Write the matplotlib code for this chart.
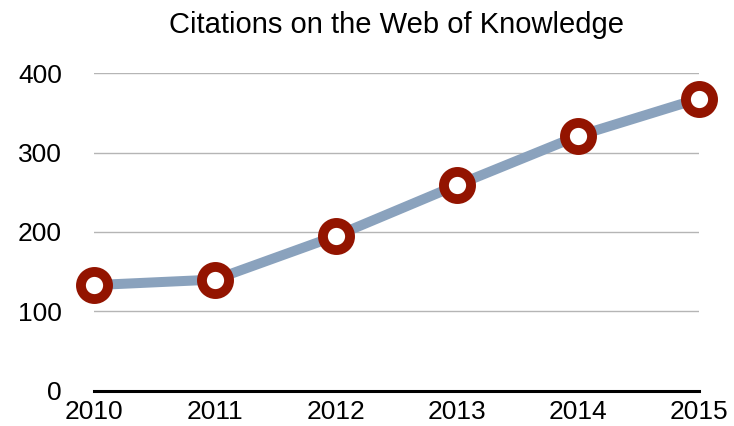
import matplotlib
matplotlib.use('Agg')
import matplotlib.pyplot as plt

years = [2010, 2011, 2012, 2013, 2014, 2015]
citations = [133, 140, 195, 259, 321, 368]
yticks = [0, 100, 200, 300, 400]

plt.rcParams['font.family'] = ['Liberation Sans', 'DejaVu Sans']

fig = plt.figure(figsize=(7.34, 4.26), dpi=100)
ax = fig.add_axes([0.128, 0.083, 0.824, 0.745])

ax.plot(years, citations, color='#8aa2bd', linewidth=7.2, zorder=2,
        solid_capstyle='butt', clip_on=False)
ax.plot(years, citations, linestyle='none', marker='o', markersize=19.5,
        markerfacecolor='white', markeredgecolor='#931400',
        markeredgewidth=7.1, zorder=3, clip_on=False)

ax.set_xlim(2010, 2015)
ax.set_ylim(0, 400)
ax.set_yticks(yticks)
ax.set_xticks(years)
ax.set_xticklabels([str(y) for y in years])
ax.yaxis.grid(True, color='#b5b5b5', linewidth=1)
ax.set_axisbelow(True)

for s in ['top', 'right', 'left']:
    ax.spines[s].set_visible(False)
ax.spines['bottom'].set_linewidth(2.2)
ax.spines['bottom'].set_color('black')
ax.spines['bottom'].set_zorder(1)

ax.tick_params(axis='both', length=0, labelsize=19)
ax.tick_params(axis='y', pad=23)
ax.tick_params(axis='x', pad=7)

ax.set_title('Citations on the Web of Knowledge', fontsize=21, pad=29)

fig.savefig('out.png', dpi=100)
